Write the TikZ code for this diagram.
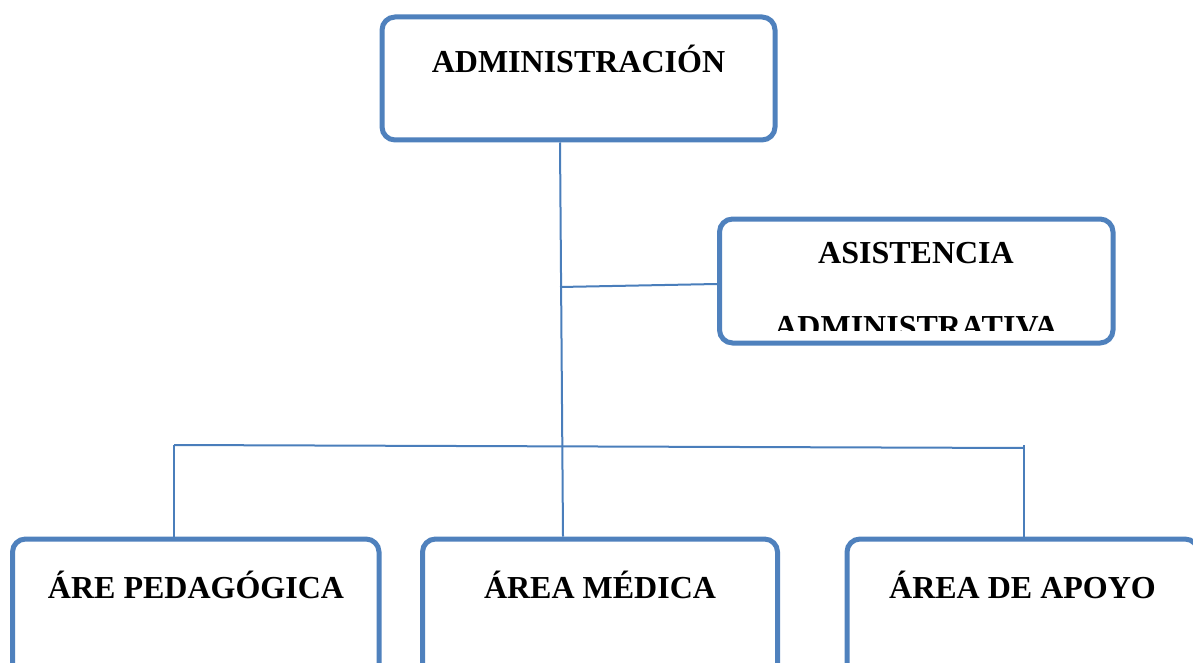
\documentclass[tikz,border=0pt]{standalone}
\usepackage{fontspec}
\setmainfont{Liberation Serif}
\usetikzlibrary{positioning}
\definecolor{boxblue}{HTML}{4F81BD}
\definecolor{lineblue}{HTML}{4A7EBB}
\tikzset{
  box/.style={draw=boxblue, line width=5pt, rounded corners=13pt, fill=white, inner sep=0pt},
  lbl/.style={anchor=base, inner sep=0pt, font=\fontsize{32}{38}\selectfont\bfseries},
  link/.style={draw=lineblue, line width=2pt},
}

\begin{document}
\begin{tikzpicture}[x=1pt,y=-1pt]

  \useasboundingbox (0,0) rectangle (1193,663);
  \clip (0,0) rectangle (1193,663);

  \node (adm) [box, minimum width=393pt, minimum height=123pt] at (578.5,78.5) {};
  \node (asi) [box, minimum width=393.5pt, minimum height=124pt] at (916.25,281) {};
  \node (ped) [box, minimum width=366.5pt, minimum height=140pt] at (195.75,609) {};
  \node (med) [box, minimum width=355pt, minimum height=140pt] at (600,609) {};
  \node (apo) [box, minimum width=351pt, minimum height=140pt] at (1022.5,609) {};

  \node (admT) [lbl] at (578.5,73) {ADMINISTRACIÓN};
  \node (asiT) [lbl] at (916,263) {ASISTENCIA};
  \begin{scope}
    \clip (720,220) rectangle (1112,330);
    \node (asiT2) [lbl] at (916,337) {ADMINISTRATIVA};
  \end{scope}
  \node (pedT) [lbl] at (196,598) {ÁRE PEDAGÓGICA};
  \node (medT) [lbl] at (600,598) {ÁREA MÉDICA};
  \node (apoT) [lbl] at (1022.5,598) {ÁREA DE APOYO};

  \coordinate (brA) at (560,287);
  \coordinate (hL) at (174,445);
  \coordinate (hR) at (1024,448);

  \draw [link] ([xshift=-18.5pt]adm.south) -- ([xshift=-37pt]med.north);
  \draw [link] (brA) -- ([yshift=-3pt]asi.west);
  \draw [link] (hL) -- (hR);
  \draw [link] (hL) -- ([xshift=-21.75pt]ped.north);
  \draw [link] ([yshift=3pt]hR) -- ([xshift=1.5pt]apo.north);

\end{tikzpicture}
\end{document}
